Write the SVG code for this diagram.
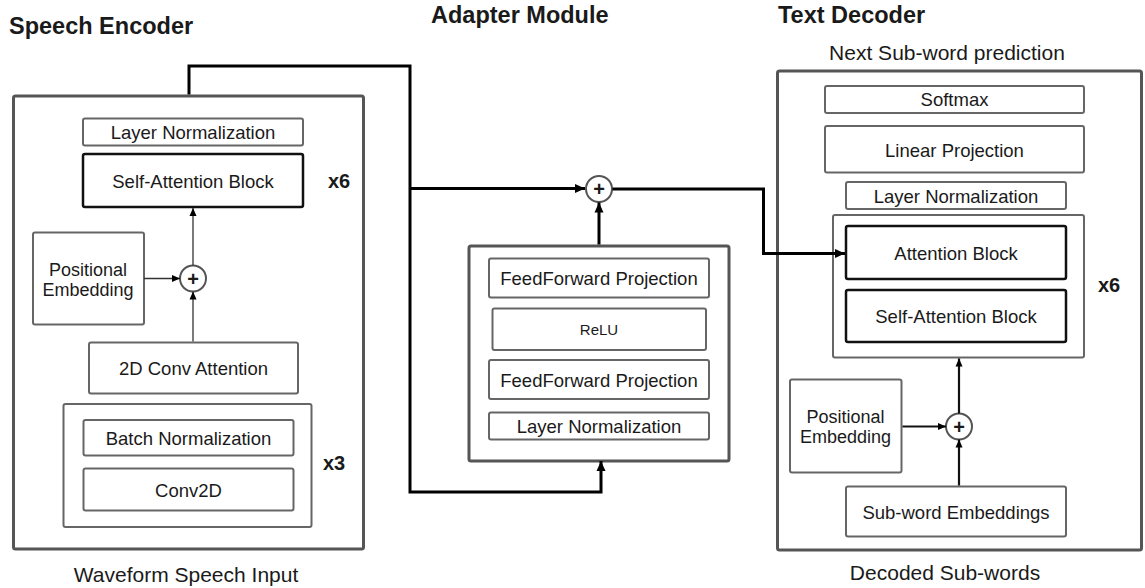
<svg xmlns="http://www.w3.org/2000/svg" width="1145" height="588" viewBox="0 0 1145 588">
<defs>
<style>
text{font-family:"Liberation Sans",Arial,sans-serif;fill:#1a1a1a}
.t{font-size:18.5px;text-anchor:middle}
.p{font-size:18px;text-anchor:middle}
.h{font-size:23.5px;font-weight:bold}
.cap{font-size:21px;text-anchor:middle}
.rep{font-size:20px;font-weight:bold}
.outer{fill:#fff;stroke:#555;stroke-width:3}
.box{fill:#fff;stroke:#666;stroke-width:2}
.blk{fill:#fff;stroke:#111;stroke-width:2.5}
.sum{fill:#fff;stroke:#555;stroke-width:2}
.plus{font-size:20px;font-weight:bold;text-anchor:middle}
.thin{fill:none;stroke:#333;stroke-width:1.3}
.mid{fill:none;stroke:#111;stroke-width:2.2}
.thick{fill:none;stroke:#000;stroke-width:3}
</style>
<marker id="a" markerUnits="userSpaceOnUse" markerWidth="10" markerHeight="10" viewBox="0 0 10 10" refX="9" refY="5" orient="auto"><path d="M1,1.5 L9,5 L1,8.5 Z" fill="#000"/></marker>
<marker id="a2" markerUnits="userSpaceOnUse" markerWidth="12" markerHeight="12" viewBox="0 0 12 12" refX="11" refY="6" orient="auto"><path d="M1,1.5 L11,6 L1,10.5 Z" fill="#000"/></marker>
</defs>
<rect width="1145" height="588" fill="#fff"/>

<text class="h" x="9" y="34">Speech Encoder</text>
<text class="h" x="431" y="23">Adapter Module</text>
<text class="h" x="778" y="23">Text Decoder</text>
<text class="cap" x="947" y="60">Next Sub-word prediction</text>
<text class="cap" x="186" y="582">Waveform Speech Input</text>
<text class="cap" x="945" y="580">Decoded Sub-words</text>

<g id="encoder">
<rect class="outer" x="13.5" y="96" width="350" height="453" rx="2"/>
<text class="rep" x="328" y="188">x6</text>
</g>
<g id="enc-layernorm"><rect class="box" x="83" y="118.5" width="220" height="27" rx="2"/><text class="t" x="193" y="138.5">Layer Normalization</text></g>
<g id="enc-selfattn"><rect class="blk" x="83" y="154" width="220" height="53" rx="2"/><text class="t" x="193" y="187.5">Self-Attention Block</text></g>
<g id="enc-posemb"><rect class="box" x="33" y="232.5" width="111" height="92" rx="2"/><text class="p" x="88" y="276">Positional</text><text class="p" x="88" y="295.5">Embedding</text></g>
<g id="enc-sum"><circle class="sum" cx="193" cy="278.5" r="13"/><text class="plus" x="193" y="285.5">+</text></g>
<g id="enc-conv-attn"><rect class="box" x="89" y="342.5" width="209" height="51" rx="2"/><text class="t" x="193.5" y="375">2D Conv Attention</text></g>
<g id="enc-conv-block"><rect class="box" x="63.5" y="404" width="248" height="123" rx="2"/><text class="rep" x="323" y="470">x3</text></g>
<g id="enc-batchnorm"><rect class="box" x="83.5" y="420" width="210" height="35.5" rx="2"/><text class="t" x="188.5" y="444.5">Batch Normalization</text></g>
<g id="enc-conv2d"><rect class="box" x="83.5" y="468.5" width="210" height="42" rx="2"/><text class="t" x="188.5" y="497">Conv2D</text></g>

<g id="adapter"><rect class="outer" x="469" y="246" width="260" height="215" rx="2"/></g>
<g id="ad-sum"><circle class="sum" cx="599" cy="189" r="13"/><text class="plus" x="599" y="196">+</text></g>
<g id="ad-ff1"><rect class="box" x="489" y="258.5" width="220" height="39" rx="2"/><text class="t" x="599" y="285">FeedForward Projection</text></g>
<g id="ad-relu"><rect class="box" x="492.5" y="308.5" width="213.5" height="41.5" rx="2"/><text class="t" x="599" y="334.5" style="font-size:15px">ReLU</text></g>
<g id="ad-ff2"><rect class="box" x="489" y="360" width="220" height="39" rx="2"/><text class="t" x="599" y="386.5">FeedForward Projection</text></g>
<g id="ad-layernorm"><rect class="box" x="489" y="412.5" width="220" height="27" rx="2"/><text class="t" x="599" y="433">Layer Normalization</text></g>

<g id="decoder"><rect class="outer" x="777.5" y="71" width="364" height="479" rx="2"/></g>
<g id="dec-softmax"><rect class="box" x="825" y="86" width="259" height="27" rx="2"/><text class="t" x="954.5" y="106">Softmax</text></g>
<g id="dec-linear"><rect class="box" x="825" y="126" width="259" height="46.5" rx="2"/><text class="t" x="954.5" y="156.5">Linear Projection</text></g>
<g id="dec-layernorm"><rect class="box" x="846" y="182" width="220" height="27" rx="2"/><text class="t" x="956" y="202.5">Layer Normalization</text></g>
<g id="dec-block"><rect class="box" x="833" y="215" width="251" height="142.5" rx="2"/><text class="rep" x="1098" y="292">x6</text></g>
<g id="dec-attn"><rect class="blk" x="846" y="226" width="220" height="53" rx="2"/><text class="t" x="956" y="260">Attention Block</text></g>
<g id="dec-selfattn"><rect class="blk" x="846" y="290" width="220" height="52" rx="2"/><text class="t" x="956" y="322.5">Self-Attention Block</text></g>
<g id="dec-posemb"><rect class="box" x="790" y="379.5" width="111.5" height="93" rx="2"/><text class="p" x="845.5" y="423">Positional</text><text class="p" x="845.5" y="442.5">Embedding</text></g>
<g id="dec-sum"><circle class="sum" cx="959" cy="426.5" r="13"/><text class="plus" x="959" y="433.5">+</text></g>
<g id="dec-subword"><rect class="box" x="846" y="486.5" width="220" height="50" rx="2"/><text class="t" x="956" y="518.5">Sub-word Embeddings</text></g>

<g id="connectors">
<path class="thick" d="M189,94.5 V66 H410 V492 H601 V470"/>
<path d="M601,470 V461" class="thick" marker-end="url(#a2)"/>
<path class="thick" d="M410,188.5 H585" marker-end="url(#a2)"/>
<path class="thick" d="M599,244.5 V202.5" marker-end="url(#a2)"/>
<path class="thick" d="M612.5,189 H763.5 V253.5 H845" marker-end="url(#a2)"/>
<path class="thin" d="M193,265.5 V208" marker-end="url(#a)"/>
<path class="thin" d="M144,278.5 H180" marker-end="url(#a)"/>
<path class="thin" d="M193,341.5 V291.5" marker-end="url(#a)"/>
<path class="mid" d="M959,413.5 V358.5" marker-end="url(#a)"/>
<path class="mid" d="M902.5,426.5 H946" marker-end="url(#a)"/>
<path class="mid" d="M959,485.5 V439.5" marker-end="url(#a)"/>
</g>
</svg>
